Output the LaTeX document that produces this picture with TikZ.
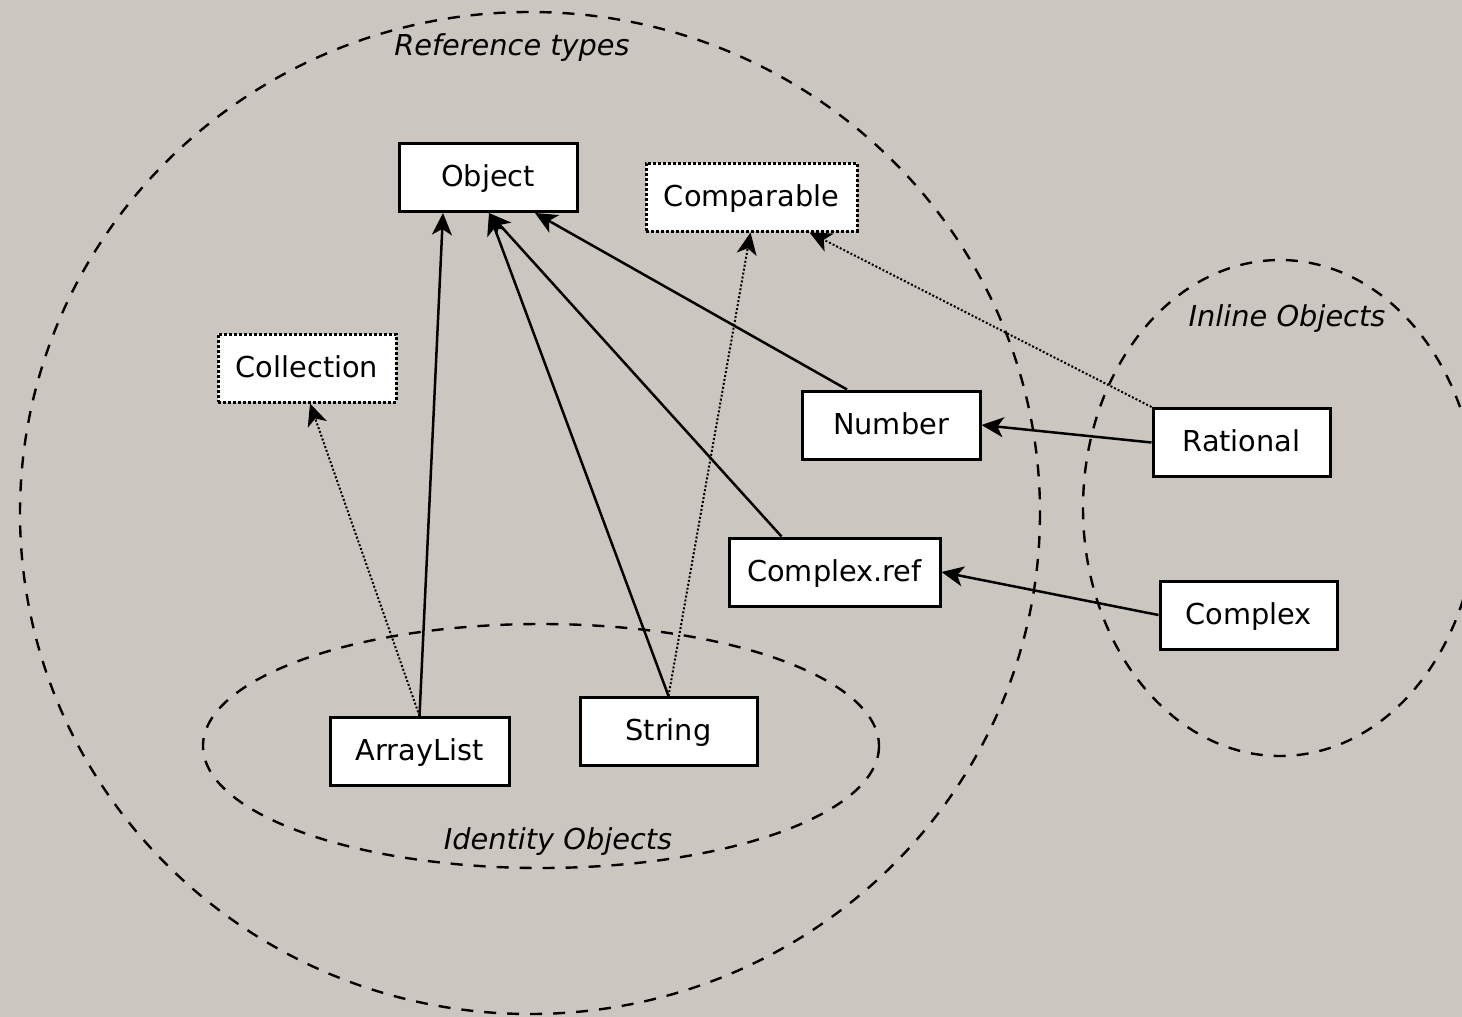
\documentclass[tikz,border=0pt]{standalone}
\usepackage{fontspec}
\setmainfont{DejaVu Sans}
\usetikzlibrary{arrows.meta}
\definecolor{bg}{RGB}{203,198,192}
\tikzset{
  cls/.style={draw=black, line width=3pt, fill=white, minimum height=68pt, inner sep=0pt, text height=24pt, text depth=6pt, font=\fontsize{28.8}{34}\selectfont},
  iface/.style={cls, dotted},
  grp/.style={draw=black, line width=2.4pt, dash pattern=on 12pt off 11pt},
  grplabel/.style={font=\fontsize{28.8}{34}\selectfont\itshape, inner sep=0pt},
  inh/.style={line width=2.5pt, -{Stealth[length=22pt,width=20pt,inset=6pt]}},
  impl/.style={line width=2pt, dotted, -{Stealth[length=22pt,width=20pt,inset=6pt]}},
}
\begin{document}
\begin{tikzpicture}[x=1pt,y=-1pt]
\fill[bg] (0,0) rectangle (1462,1017);
\useasboundingbox (0,0) rectangle (1462,1017);
% groups
\draw[grp] (530,513) ellipse [x radius=510, y radius=501];
\draw[grp] (1280,508) ellipse [x radius=197, y radius=248];
\draw[grp] (541,746) ellipse [x radius=338, y radius=122];
\node[grplabel] (lref) at (512,48) {Reference types};
\node[grplabel] (linl) at (1287,319) {Inline Objects};
\node[grplabel] (lid) at (558,842) {Identity Objects};
% classes
\node[cls, minimum width=178pt] (object) at (488,177.5) {Object};
\node[iface, minimum width=211pt] (comparable) at (751.5,197) {Comparable};
\node[iface, minimum width=178pt] (collection) at (307,368) {Collection};
\node[cls, minimum width=178pt] (number) at (891,425) {Number};
\node[cls, minimum width=177pt] (rational) at (1241.5,442.5) {Rational};
\node[cls, minimum width=211pt] (complexref) at (834.5,572) {Complex.ref};
\node[cls, minimum width=177pt] (complex) at (1248.5,615) {Complex};
\node[cls, minimum width=179pt] (arraylist) at (419.5,751.5) {ArrayList};
\node[cls, minimum width=177pt] (string) at (668.5,731.5) {String};
% edges
\draw[inh] (arraylist.north) -- ([xshift=-45pt]object.south);
\draw[impl] (arraylist.north) -- ([xshift=3pt]collection.south);
\draw[inh] (string.north) -- ([xshift=1pt]object.south);
\draw[impl] (string.north) -- ([xshift=-1pt]comparable.south);
\draw[inh] ([xshift=-53pt]complexref.north) -- ([xshift=1pt]object.south);
\draw[inh] ([xshift=-44pt]number.north) -- ([xshift=47pt]object.south);
\draw[impl] (rational.north west) -- ([xshift=58pt]comparable.south);
\draw[inh] (rational.west) -- (number.east);
\draw[inh] (complex.west) -- (complexref.east);
\end{tikzpicture}
\end{document}
